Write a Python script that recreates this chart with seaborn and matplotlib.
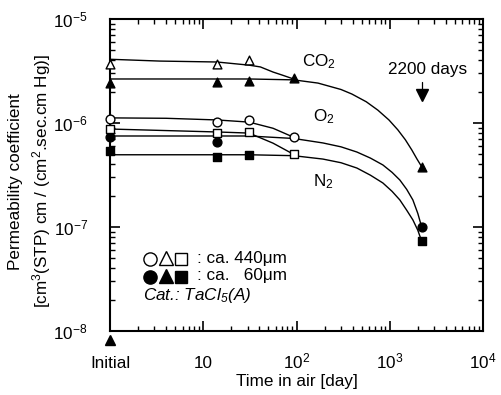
import numpy as np
import pandas as pd
import seaborn as sns
import matplotlib
matplotlib.use("Agg")
import matplotlib.pyplot as plt
import matplotlib.transforms as mtransforms
from matplotlib.ticker import FixedLocator, LogLocator, NullFormatter

# ---------------- data ----------------
# measured points (days after preparation; "Initial" plotted at day 1)
co2_thick_days = [1, 14, 31]
co2_thick_vals = [3.7e-6, 3.7e-6, 4.0e-6]
co2_thin_days = [1, 14, 31, 93, 2200]
co2_thin_vals = [2.4e-6, 2.5e-6, 2.55e-6, 2.7e-6, 3.8e-7]
o2_thick_days = [1, 14, 31, 93]
o2_thick_vals = [1.1e-6, 1.03e-6, 1.07e-6, 7.4e-7]
o2_thin_days = [1, 14, 2200]
o2_thin_vals = [7.3e-7, 6.6e-7, 1.0e-7]
n2_thick_days = [1, 14, 31, 93]
n2_thick_vals = [8.75e-7, 8.0e-7, 8.2e-7, 5.0e-7]
n2_thin_days = [1, 14, 31, 2200]
n2_thin_vals = [5.4e-7, 4.7e-7, 4.9e-7, 7.3e-8]

# hand-drawn guide curves
co2_thick_curve_days = [1, 3.4, 14, 31, 41, 56, 71, 93]
co2_thick_curve_vals = [4.1e-6, 3.94e-6, 3.86e-6, 3.6e-6, 3.46e-6, 3.09e-6, 2.88e-6, 2.65e-6]
co2_thin_curve_days = [1, 31, 93, 170, 300, 392, 560, 745, 980, 1220, 1470, 1725, 1960, 2200]
co2_thin_curve_vals = [2.65e-6, 2.65e-6, 2.6e-6, 2.42e-6, 2.1e-6, 1.9e-6, 1.6e-6, 1.33e-6,
                       1.07e-6, 8.6e-7, 6.9e-7, 5.5e-7, 4.5e-7, 3.8e-7]
o2_thick_curve_days = [1, 4, 14, 31, 56, 93]
o2_thick_curve_vals = [1.12e-6, 1.11e-6, 1.07e-6, 1.02e-6, 8.9e-7, 7.3e-7]
o2_thin_curve_days = [1, 31, 93, 192, 300, 444, 620, 844, 1060, 1283, 1520, 1770, 2000, 2200]
o2_thin_curve_vals = [7.5e-7, 7.5e-7, 7.1e-7, 6.43e-7, 5.9e-7, 5.26e-7, 4.6e-7, 3.95e-7,
                      3.35e-7, 2.83e-7, 2.3e-7, 1.82e-7, 1.35e-7, 1.0e-7]
n2_thick_curve_days = [1, 14, 31, 56, 93]
n2_thick_curve_vals = [8.75e-7, 8.2e-7, 8.0e-7, 6.4e-7, 5.0e-7]
n2_thin_curve_days = [1, 31, 93, 192, 300, 444, 620, 844, 1060, 1283, 1520, 1770, 2000, 2200]
n2_thin_curve_vals = [4.95e-7, 4.95e-7, 4.85e-7, 4.5e-7, 4.15e-7, 3.69e-7, 3.15e-7, 2.65e-7,
                      2.2e-7, 1.82e-7, 1.45e-7, 1.17e-7, 9.3e-8, 7.3e-8]

x_tick_values = [1, 10, 100, 1000, 10000]
x_tick_labels = ["Initial", "10", "$10^2$", "$10^3$", "$10^4$"]
y_tick_values = [1e-8, 1e-7, 1e-6, 1e-5]
y_tick_labels = ["$10^{-8}$", "$10^{-7}$", "$10^{-6}$", "$10^{-5}$"]

# ---------------- style ----------------
sns.set_theme(style="ticks")
plt.rcParams["font.family"] = ["Liberation Sans", "DejaVu Sans"]
plt.rcParams["mathtext.fontset"] = "custom"
plt.rcParams["mathtext.rm"] = "Liberation Sans"
plt.rcParams["mathtext.it"] = "Liberation Sans:italic"
plt.rcParams["mathtext.bf"] = "Liberation Sans:bold"
plt.rcParams["text.color"] = "black"
plt.rcParams["axes.labelcolor"] = "black"
FS = 12.3

fig = plt.figure(figsize=(5.01, 3.95), dpi=100)
ax = fig.add_axes([110 / 501, 1 - 331 / 395, 373 / 501, 312 / 395])
ax.set_xscale("log")
ax.set_yscale("log")
ax.set_xlim(1, 1e4)
ax.set_ylim(1e-8, 1e-5)

# curves
curves = [
    ("co2_thick", co2_thick_curve_days, co2_thick_curve_vals),
    ("co2_thin", co2_thin_curve_days, co2_thin_curve_vals),
    ("o2_thick", o2_thick_curve_days, o2_thick_curve_vals),
    ("o2_thin", o2_thin_curve_days, o2_thin_curve_vals),
    ("n2_thick", n2_thick_curve_days, n2_thick_curve_vals),
    ("n2_thin", n2_thin_curve_days, n2_thin_curve_vals),
]
df_lines = pd.concat(
    [pd.DataFrame({"curve": n, "day": d, "value": v}) for n, d, v in curves],
    ignore_index=True,
)
sns.lineplot(data=df_lines, x="day", y="value", units="curve", estimator=None,
             sort=False, color="black", lw=1.0, ax=ax, legend=False, zorder=2)

# markers
pts = [
    (co2_thick_days, co2_thick_vals, "^", "white", 40),
    (co2_thin_days, co2_thin_vals, "^", "black", 40),
    (o2_thick_days, o2_thick_vals, "o", "white", 40),
    (o2_thin_days, o2_thin_vals, "o", "black", 40),
    (n2_thick_days, n2_thick_vals, "s", "white", 36),
    (n2_thin_days, n2_thin_vals, "s", "black", 36),
]
for d, v, m, fc, s in pts:
    sns.scatterplot(x=d, y=v, marker=m, s=s, color=fc, edgecolor="black",
                    linewidth=1.0, ax=ax, zorder=3, clip_on=False, legend=False)

# axes styling
for sp in ax.spines.values():
    sp.set_linewidth(1.5)
    sp.set_color("black")
    sp.set_visible(True)
ax.xaxis.set_major_locator(FixedLocator(x_tick_values))
ax.set_xticklabels(x_tick_labels)
ax.xaxis.set_minor_locator(LogLocator(base=10, subs=np.arange(2, 10)))
ax.xaxis.set_minor_formatter(NullFormatter())
ax.yaxis.set_major_locator(FixedLocator(y_tick_values))
ax.set_yticklabels(y_tick_labels)
ax.yaxis.set_minor_locator(LogLocator(base=10, subs=np.arange(2, 10)))
ax.yaxis.set_minor_formatter(NullFormatter())
ax.tick_params(which="both", direction="in", top=True, right=True,
               color="black", labelsize=FS, labelcolor="black")
ax.tick_params(which="major", length=7, width=1.2)
ax.tick_params(which="minor", length=3.5, width=1.0)
ax.tick_params(axis="y", which="major", pad=16)
ax.tick_params(axis="x", which="major", pad=27)
for lbl in ax.get_xticklabels():
    lbl.set_verticalalignment("baseline")

ax.set_xlabel("Time in air [day]", fontsize=FS, color="black", labelpad=2)
ax.set_ylabel("Permeability coefficient\n[cm$^3$(STP) cm / (cm$^2$.sec.cm Hg)]",
              fontsize=FS, color="black", linespacing=1.45, va="center")
ax.yaxis.set_label_coords(-0.213, 0.48)

# annotations
ax.text(175, 3.85e-6, "CO$_2$", fontsize=FS, ha="center", va="center")
ax.text(195, 1.14e-6, "O$_2$", fontsize=FS, ha="center", va="center")
ax.text(195, 2.75e-7, "N$_2$", fontsize=FS, ha="center", va="center")
ax.text(2550, 3.25e-6, "2200 days", fontsize=FS, ha="center", va="center")
ax.plot([2200, 2200], [2.5e-6, 1.95e-6], color="black", lw=0.9)
ax.plot([2200], [1.85e-6], marker="v", ms=9, color="black", mec="black")

# arrow under "Initial"
btr = mtransforms.blended_transform_factory(ax.transData, ax.transAxes)
ax.plot([1], [-0.03], marker="^", ms=7.5, color="black", transform=btr, clip_on=False)

# legend-like key
tA = ax.transAxes
ax.plot([0.107], [0.231], marker="o", ms=9.5, mfc="white", mec="black", mew=1.0, transform=tA)
ax.plot([0.150], [0.233], marker="^", ms=10, mfc="white", mec="black", mew=1.0, transform=tA)
ax.plot([0.190], [0.231], marker="s", ms=8.5, mfc="white", mec="black", mew=1.0, transform=tA)
ax.plot([0.107], [0.173], marker="o", ms=9.5, color="black", transform=tA)
ax.plot([0.150], [0.175], marker="^", ms=10, color="black", transform=tA)
ax.plot([0.190], [0.173], marker="s", ms=8.5, color="black", transform=tA)
ax.text(0.233, 0.231, ": ca. 440\u03bcm", fontsize=FS, transform=tA, va="center", ha="left")
ax.text(0.233, 0.178, ": ca.   60\u03bcm", fontsize=FS, transform=tA, va="center", ha="left")
ax.text(0.088, 0.115, "Cat.: TaCl$_\\mathregular{5}$(A)", fontsize=FS, style="italic",
        transform=tA, va="center", ha="left")

fig.savefig("out.png", dpi=100, facecolor="white")
